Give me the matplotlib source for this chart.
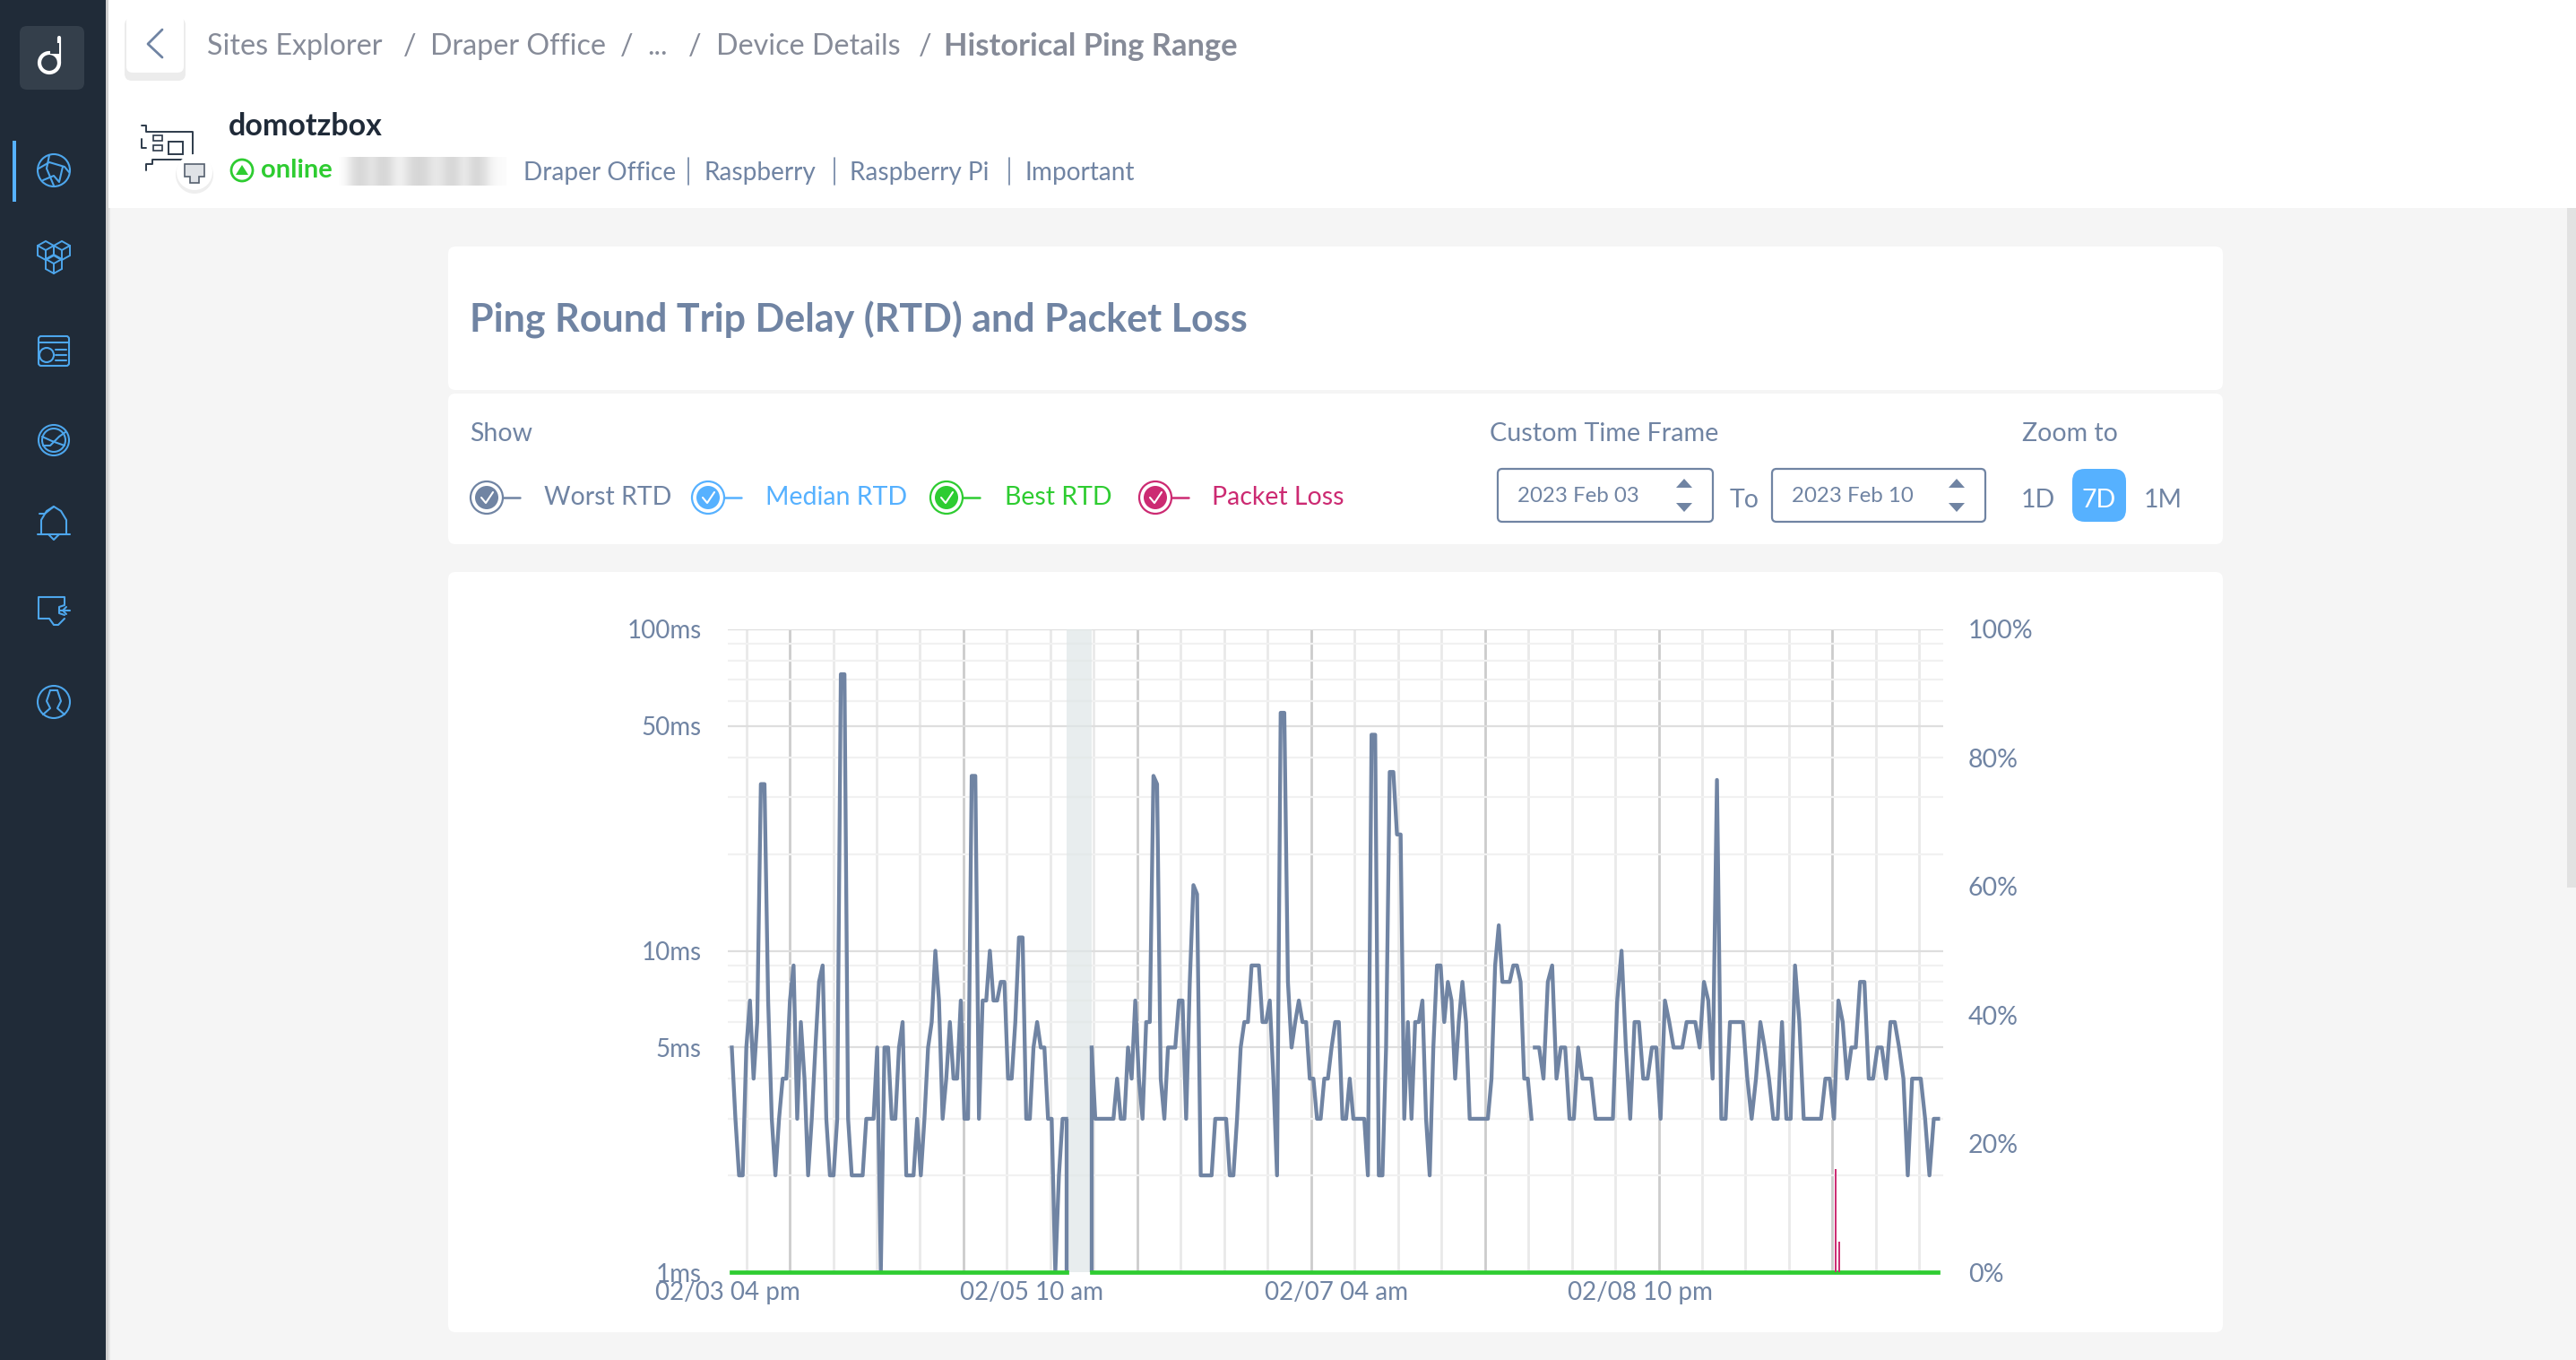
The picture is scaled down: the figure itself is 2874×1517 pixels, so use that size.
import numpy as np
import matplotlib
matplotlib.use('Agg')
import matplotlib.pyplot as plt
from matplotlib.patches import Rectangle, FancyBboxPatch, Circle, Polygon

plt.rcParams['font.family'] = ['Lato', 'DejaVu Sans']

# worst RTD in ms
worst_a = [5,3,2,2,5,7,4,6,33,33,7,3,2,3,4,4,7,9,3,6,4,2,3,5,8,9,3,2,2,3,72.5,72.5,3,2,2,2,2,
           3,3,3,5,1,5,5,3,3,5,6,2,2,2,3,2,3,5,6,10,7,3,4,6,4,4,7,3,3,35,35,3,7,7,10,7,7,8,8,
           4,4,6,11,11,3,3,5,6,5,5,3,3,1,2,3,3]
worst_b = [5,3,3,3,3,3,3,4,3,3,5,4,7,4,3,6,6,35,33,4,3,5,5,5,7,7,3,8,16,15,2,2,2,2,3,3,3,3,2,2,
           3,5,6,6,9,9,9,6,6,7,4,2,55,55,8,5,6,7,6,6,4,4,3,3,4,4,5,6,6,3,3,4,3,3,3,3,2,47,47,2,2,
           5,36,36,23,23,3,6,3,6,6,7,3,2,5,9,9,6,8,7,4,6,8,6,3,3,3,3,3,3,4,9,12,8,8,8,9,9,8,4,4,3]
worst_c = [5,5,4,8,9,4,5,5,3,3,5,4,4,4,3,3,3,3,3,7,10,5,3,6,6,4,4,5,5,3,7,6,5,5,5,6,6,6,5,8,7,4,
           34,3,3,6,6,6,6,4,3,4,6,5,4,3,3,6,3,3,9,6,3,3,3,3,3,4,4,3,7,6,4,5,5,8,8,4,4,5,5,4,6,6,5,
           4,2,4,4,4,3,2,3,3]

# hours since 02/03 04 pm
SAMPLE_H = 0.502
hours_a = np.arange(len(worst_a)) * SAMPLE_H
hours_b = (99 + np.arange(len(worst_b))) * SAMPLE_H
hours_c = np.linspace(110.9, 166.6, len(worst_c))

loss_hours = [152.5, 153.0]
loss_pct = [16, 4.7]
gap_hours = [46.3, 49.65]

xtick_hours = [-0.55, 41.45, 83.45, 125.45]
xtick_labels = ['02/03 04 pm', '02/05 10 am', '02/07 04 am', '02/08 10 pm']
ytick_ms = [1, 5, 10, 50, 100]
ytick_ms_labels = ['1ms', '5ms', '10ms', '50ms', '100ms']
ytick_pct = [0, 20, 40, 60, 80, 100]

crumbs = [('Sites Explorer', 231), ('/', 450), ('Draper Office', 480), ('/', 692), ('...', 722),
          ('/', 768), ('Device Details', 799), ('/', 1025)]
tags = [('Draper Office', 584), ('Raspberry', 785), ('Raspberry Pi', 948), ('Important', 1143)]
tag_seps = [768, 931, 1126]
legend_items = [('Worst RTD', 543, 607, '#7084a3'), ('Median RTD', 790, 854, '#56b1ff'),
                ('Best RTD', 1056, 1121, '#2ecc31'), ('Packet Loss', 1289, 1352, '#cc2a72')]

SLATE = '#7084a3'
CRUMB = '#868b98'
BLUE = '#4da6ec'
W, H = 2874, 1517

fig = plt.figure(figsize=(W / 100, H / 100), dpi=100, facecolor='#f5f5f5')
bg = fig.add_axes([0, 0, 1, 1], zorder=0)
bg.set_xlim(0, W)
bg.set_ylim(H, 0)
bg.axis('off')


def rect(x0, y0, x1, y1, color, z=1, ax=bg):
    ax.add_patch(Rectangle((x0, y0), x1 - x0, y1 - y0, fc=color, ec='none', zorder=z))


def rrect(x0, y0, x1, y1, color, r=8, z=2, ec='none', lw=0):
    bg.add_patch(FancyBboxPatch((x0 + r, y0 + r), x1 - x0 - 2 * r, y1 - y0 - 2 * r,
                                boxstyle='round,pad=%d,rounding_size=%d' % (r, r),
                                fc=color, ec=ec, lw=lw, zorder=z))


def txt(x, y, s, size=20.5, color=SLATE, weight='normal', ha='left', z=5):
    bg.text(x, y + 2, s, fontsize=size, color=color, fontweight=weight, ha=ha, va='center', zorder=z)


def pl(xs, ys, color=BLUE, lw=1.5, z=6):
    bg.plot(xs, ys, color=color, lw=lw, zorder=z, solid_capstyle='round', solid_joinstyle='round')


def ring(x, y, r, color=BLUE, lw=1.5, z=6, fc='none'):
    bg.add_patch(Circle((x, y), r, fc=fc, ec=color, lw=lw, zorder=z))


# page chrome
rect(0, 0, W, 232, 'white')
rect(118, 0, 121, H, '#d0d0d0', z=2)
rect(121, 232, 123, H, '#e6e6e6', z=2)
rect(0, 0, 118, H, '#202b38', z=3)
rect(2864, 232, W, 990, '#e2e2e2')
rrect(22, 29, 94, 100, '#343f4b', r=8, z=4)
ring(55, 70, 11, 'white', lw=3, z=5)
pl([66, 66], [42, 70], 'white', lw=3, z=5)
rect(56, 48, 66, 60, '#343f4b', z=5)
rect(14, 157, 18, 225, '#56b1ff', z=5)

# sidebar icons
ring(60, 190, 18)
pl([43, 55, 72, 77], [188, 181, 186, 192])
pl([48, 60, 66, 70], [201, 196, 203, 186])
pl([55, 52, 60], [173, 188, 207])
for cx, cy in [(51, 279), (69, 279), (60, 294)]:
    bg.add_patch(Polygon([(cx - 9, cy - 5), (cx, cy - 10), (cx + 9, cy - 5), (cx + 9, cy + 6), (cx, cy + 11), (cx - 9, cy + 6)],
                         fc='none', ec=BLUE, lw=1.4, zorder=6))
    pl([cx - 9, cx, cx + 9], [cy - 5, cy, cy - 5], lw=1.4)
    pl([cx, cx], [cy, cy + 11], lw=1.4)
bg.add_patch(FancyBboxPatch((43, 375), 34, 33, boxstyle='round,pad=0,rounding_size=3', fc='none', ec=BLUE, lw=1.5, zorder=6))
pl([43, 77], [382, 382])
ring(52, 396, 8)
pl([62, 74], [390, 390])
pl([62, 74], [396, 396])
pl([62, 74], [402, 402])
ring(60, 491, 17)
ring(60, 491, 13)
pl([48, 56, 66, 73], [497, 497, 487, 482])
pl([47, 58, 72], [487, 492, 497])
pl([44, 50, 60], [573, 573, 565])
pl([42, 78], [596, 596])
pl([46, 46, 52, 60, 68, 74, 74], [596, 580, 570, 565, 570, 580, 596])
pl([54, 60, 66], [596, 602, 596])
pl([43, 43, 72, 72], [690, 666, 666, 674])
pl([43, 55, 60, 65, 72, 72], [690, 690, 697, 697, 690, 690])
pl([72, 66, 66, 72], [675, 677, 684, 686])
pl([66, 78], [681, 681])
pl([74, 70, 74], [677, 681, 685])
ring(60, 783, 18)
pl([48, 56, 52, 56], [797, 790, 782, 770])
pl([72, 64, 68, 64], [797, 790, 782, 770])
pl([56, 64], [770, 770])

# breadcrumb and device header
rrect(139, 20, 207, 90, '#ececec', r=8, z=2)
rrect(141, 17, 205, 81, 'white', r=7, z=3)
pl([181, 165, 181], [33, 49, 64], SLATE, lw=2)
for s, x in crumbs:
    txt(x, 50, s, size=23.2, color=CRUMB)
txt(1053, 50, 'Historical Ping Range', size=24.8, color=CRUMB, weight='bold')
txt(255, 139, 'domotzbox', size=24.5, color='#1f2a38', weight='bold')
ring(270, 190, 12, '#2ecc31', lw=2)
bg.add_patch(Polygon([(263, 195), (270, 184), (277, 195)], fc='#2ecc31', ec='none', zorder=6))
txt(291, 188, 'online', size=21, color='#2ecc31', weight='bold')
blur = np.array([[0, .45, .6, .3, .6, .5, .1, .45, .6, .5, .25, .5, .6, .2, .6, .5, .1, .05]])
bg.imshow(np.dstack([np.full((1, 18, 3), .72), blur]), extent=(378, 565, 207, 175),
          interpolation='bicubic', aspect='auto', zorder=4)
bg.set_xlim(0, W)
bg.set_ylim(H, 0)
for s, x in tags:
    txt(x, 191, s, size=20.2)
for x in tag_seps:
    pl([x, x], [176, 206], SLATE, lw=1.2)

# device icon
pl([158, 163, 163, 215, 215, 170, 170, 163, 163], [140, 140, 147, 147, 178, 178, 183, 183, 190], '#2d3a4a', lw=1.4)
pl([158, 158, 163], [155, 165, 165], '#2d3a4a', lw=1.4)
bg.add_patch(Rectangle((188, 158), 16, 14, fc='none', ec='#2d3a4a', lw=1.4, zorder=6))
bg.add_patch(Rectangle((171, 151), 10, 6, fc='none', ec='#2d3a4a', lw=1.2, zorder=6))
bg.add_patch(Rectangle((171, 162), 10, 6, fc='none', ec='#2d3a4a', lw=1.2, zorder=6))
bg.add_patch(Circle((217, 195), 21, fc='#eeeeee', ec='none', zorder=6))
bg.add_patch(Circle((217, 192), 20, fc='white', ec='none', zorder=6))
bg.add_patch(Polygon([(206, 183), (228, 183), (228, 197), (222, 197), (222, 204), (212, 204), (212, 197), (206, 197)],
                     fc='#dfe2e6', ec='#55606e', lw=1.2, zorder=7))

# cards
rrect(500, 275, 2480, 435, 'white')
rrect(500, 439, 2480, 607, 'white')
rrect(500, 638, 2480, 1486, 'white')
txt(524, 355, 'Ping Round Trip Delay (RTD) and Packet Loss', size=31, weight='bold')

# filter row
txt(524, 482, 'Show', size=20.5)
txt(1662, 482, 'Custom Time Frame', size=20.7)
txt(2256, 482, 'Zoom to', size=20.5)
for label, cx, tx, col in legend_items:
    ring(cx, 555, 18, col, lw=1.6, z=6)
    ring(cx, 555, 13, col, lw=0, z=6, fc=col)
    pl([cx - 6, cx - 1, cx + 7], [555, 561, 549], 'white', lw=1.5, z=7)
    pl([cx + 18, cx + 37], [555, 555], col, lw=1.8)
    txt(tx, 553, label, size=20.5, color=col)
for x0, x1, label in [(1671, 1911, '2023 Feb 03'), (1977, 2215, '2023 Feb 10')]:
    rrect(x0, 523, x1, 582, 'white', r=5, z=3, ec=SLATE, lw=1.6)
    txt(x0 + 22, 551, label, size=17.3)
    ax_ = x1 - 32
    bg.add_patch(Polygon([(ax_ - 9, 544), (ax_, 534), (ax_ + 9, 544)], fc=SLATE, ec='none', zorder=6))
    bg.add_patch(Polygon([(ax_ - 9, 561), (ax_, 571), (ax_ + 9, 561)], fc=SLATE, ec='none', zorder=6))
txt(1930, 556, 'To', size=20.5)
txt(2255, 556, '1D', size=20.5)
rrect(2312, 523, 2372, 582, '#56b1ff', r=14, z=3)
txt(2342, 556, '7D', size=20.5, color='white', ha='center')
txt(2392, 556, '1M', size=20.5)

# chart
ax = fig.add_axes([812 / W, 1 - 1419 / H, (2168 - 812) / W, (1419 - 702) / H], zorder=2)
ax.patch.set_alpha(0)
ax.set_yscale('log')
ax.set_ylim(1, 100)
ax.set_xlim(-0.5, 167.3)
for sp in ax.spines.values():
    sp.set_visible(False)

for h in np.arange(2, 168, 6):
    major = (h - 8) % 24 == 0
    ax.axvline(h, color='#cccccc' if major else '#e9e9e9', lw=2, zorder=1)
for d in [1, 10, 100]:
    for m in range(2, 10):
        if m * d <= 100:
            ax.axhline(m * d, color='#dedede' if (m == 5 and d < 100) else '#f1f1f1', lw=1.6, zorder=1)
for v in [10, 100]:
    ax.axhline(v, color='#dedede', lw=1.6, zorder=1)

ax.axvspan(gap_hours[0], gap_hours[1], color='#dfe6e7', alpha=0.7, lw=0, zorder=2)

ax.plot(hours_a, worst_a, color=SLATE, lw=3.1, zorder=3)
ax.plot(hours_b, worst_b, color=SLATE, lw=3.1, zorder=3)
ax.plot(hours_c, worst_c, color=SLATE, lw=3.1, zorder=3)
# dropouts either side of the gap fall straight to the floor
ax.vlines([hours_a[-1], hours_b[0]], 1, [worst_a[-1], worst_b[0]], color=SLATE, lw=3.1, zorder=3)

# best RTD sits on the floor
ax.plot(hours_a, np.ones(len(hours_a)), color='#2ecc31', lw=3.4, zorder=5, clip_on=False)
ax.plot(np.r_[hours_b, hours_c], np.ones(len(hours_b) + len(hours_c)), color='#2ecc31', lw=3.4, zorder=5, clip_on=False)

ax.set_yticks(ytick_ms)
ax.set_yticklabels(ytick_ms_labels, fontsize=20, color=SLATE)
ax.minorticks_off()
ax.tick_params(axis='both', length=0)
ax.tick_params(axis='y', pad=21)
ax.set_xticks(xtick_hours)
ax.set_xticklabels(xtick_labels, fontsize=20, color=SLATE)
ax.tick_params(axis='x', pad=7)

ax2 = ax.twinx()
ax2.set_ylim(0, 100)
ax2.patch.set_alpha(0)
for sp in ax2.spines.values():
    sp.set_visible(False)
ax2.vlines(loss_hours, 0, loss_pct, color='#cc2a72', lw=1.4, zorder=4)
ax2.set_yticks(ytick_pct)
ax2.set_yticklabels(['%d%%' % p for p in ytick_pct], fontsize=20.5, color=SLATE)
ax2.tick_params(axis='y', length=0, pad=20)

fig.savefig('out.png', dpi=100)
